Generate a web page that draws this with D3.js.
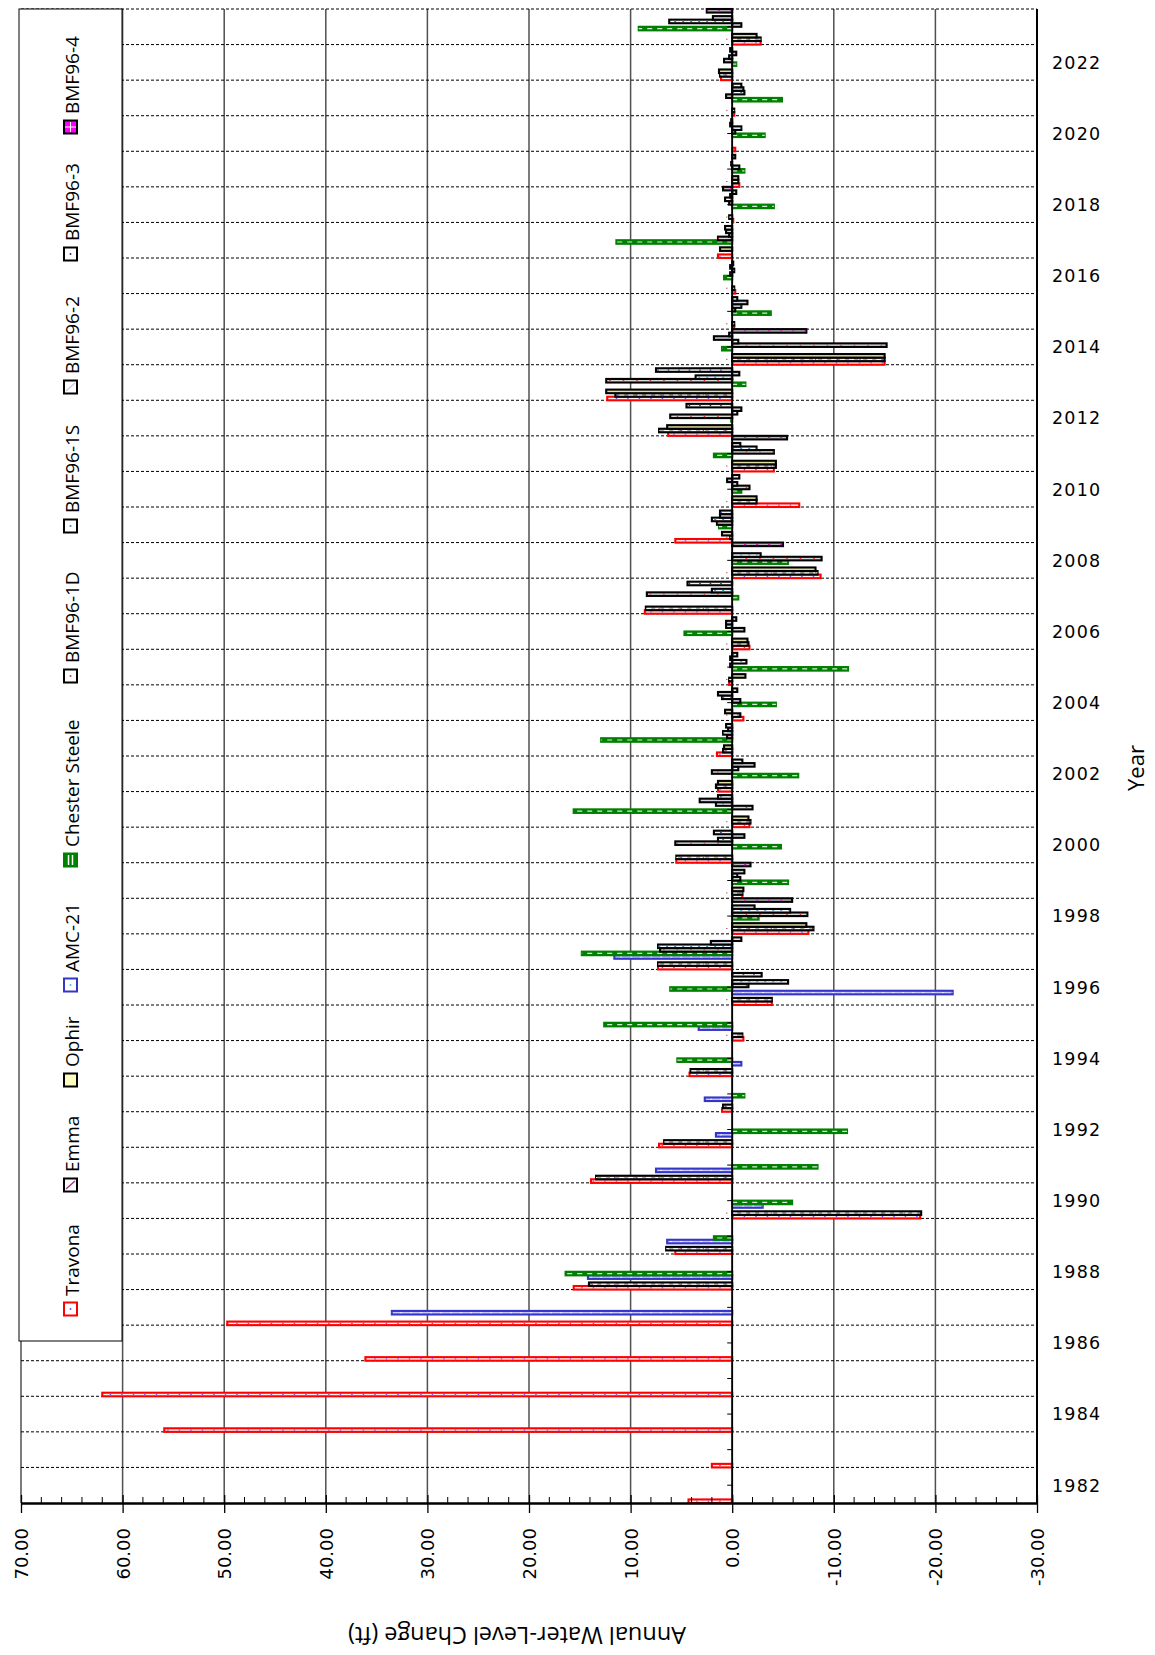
<!DOCTYPE html>
<html><head><meta charset="utf-8">
<script src="https://cdn.jsdelivr.net/npm/d3@7"></script>
<style>body{margin:0;background:#fff;} svg{display:block}</style>
</head><body>
<svg id="chart" width="1155" height="1655"></svg>
<script>
// ---------- DATA ----------
const years = [1982,1983,1984,1985,1986,1987,1988,1989,1990,1991,1992,1993,1994,1995,1996,1997,1998,1999,2000,2001,2002,2003,2004,2005,2006,2007,2008,2009,2010,2011,2012,2013,2014,2015,2016,2017,2018,2019,2020,2021,2022,2023];
const yearTickLabels = [1982,1984,1986,1988,1990,1992,1994,1996,1998,2000,2002,2004,2006,2008,2010,2012,2014,2016,2018,2020,2022];
const valueTicks = [70,60,50,40,30,20,10,0,-10,-20,-30];
const seriesNames = ["Travona","Emma","Ophir","AMC-21","Chester Steele","BMF96-1D","BMF96-1S","BMF96-2","BMF96-3","BMF96-4"];

const travona = [4.3,2.0,55.9,62.0,36.1,49.7,15.6,5.6,-18.5,13.9, 7.2,1.0,4.2,-1.1,-3.9,7.3,-7.5,-1.0,5.5,-1.7, 1.4,1.5,-1.1,0.3,-1.7,8.6,-8.7,5.6,-6.6,-4.1, 6.3,12.3,-15.0,-0.2,-0.3,1.4,-0.1,-0.7,-0.3,-0.2, 1.1,-2.8];
const emma = [null,null,null,null,null,null,14.1,6.5,-18.6,13.4, 6.7,0.9,4.1,-1.0,-3.9,7.3,-8.0,-1.0,5.5,-1.8, 1.6,0.9,-0.8,0.3,-1.6,8.5,-8.4,0.2,-2.4,-4.3, 7.2,11.5,-15.0,-0.2,-0.2,null,0.3,-0.6,null,-0.2, 1.2,-2.8];
const ophir = [null,null,null,null,null,null,null,null,null,null, null,null,null,null,null,null,-7.3,-1.1,null,-1.6, 1.4,0.8,0.7,-1.3,-1.5,null,-8.2,1.0,-2.4,-4.3, 6.4,12.4,-15.0,null,null,1.2,null,-0.6,null,null, 1.3,-2.4];
const amc21 = [null,null,null,null,null,33.5,14.2,6.4,-3.0,7.5, 1.6,2.7,-0.9,3.3,-21.7,11.6,null,null,null,null, null,null,null,null,null,null,null,null,null,null, null,null,null,null,null,null,null,null,null,null, null,null];
const chesterSteele = [null,null,null,null,null,null,16.4,1.8,-5.9,-8.4, -11.3,-1.2,5.4,12.6,6.1,14.8,-2.6,-5.5,-4.8,15.6, -6.5,12.9,-4.3,-11.4,4.7,-0.6,-5.5,1.3,-0.9,1.8, 0.1,-1.3,1.0,-3.8,0.8,11.4,-4.1,-1.2,-3.2,-4.9, -0.4,9.2];
const bmf961D = [null,null,null,null,null,null,null,null,null,null, null,null,null,null,-1.6,7.1,-7.4,-0.8,5.6,-2.0, 2.0,0.5,-0.8,0.2,-1.2,8.4,-8.8,1.5,-1.7,-4.1, 6.1,12.4,-15.2,-0.3,0.2,1.4,0.3,-0.7,-0.3,0.6, 0.8,-0.9];
const bmf961S = [null,null,null,null,null,null,null,null,null,null, null,null,null,null,-5.5,7.3,-5.7,-0.5,1.4,1.6, -0.6,0.9,1.0,-1.4,0.6,2.0,-2.8,2.0,-0.5,-2.4, -0.5,3.6,-0.6,-0.9,-0.2,0.3,0.7,0.1,-0.9,-1.2, 0.3,6.2];
const bmf962 = [null,null,null,null,null,null,null,null,null,null, null,null,null,null,null,2.1,-2.2,-1.2,-1.2,3.2, -2.2,0.4,1.4,0.2,0.6,null,null,1.2,0.5,-0.8, -0.9,-0.7,1.8,-1.5,0.2,0.6,0.2,null,0.2,-1.1, -0.4,1.9];
const bmf963 = [null,null,null,null,null,null,null,null,null,null, null,null,null,null,-2.9,-0.9,null,null,1.8,1.4, -1.0,0.6,-0.5,-0.5,-0.4,4.4,null,1.2,-0.7,null, 4.5,7.5,0.3,-0.5,-0.1,0.7,-0.4,-0.3,0.1,-0.9, 0.2,null];
const bmf964 = [null,null,null,null,null,null,null,null,null,null, null,null,null,null,null,null,-5.9,-1.8,null,null, null,null,null,null,null,null,-5.0,null,null,-5.4, null,null,-7.3,null,null,null,0.9,null,null,null, null,2.5];

const seriesValues = [travona, emma, ophir, amc21, chesterSteele, bmf961D, bmf961S, bmf962, bmf963, bmf964];

// ---------- STYLES ----------
const styles = [
  {stroke:"#ff0000", fill:"#fff2f2", mark:"#5a5aff", dash:"1.5,10", mw:1.2},
  {stroke:"#000000", fill:"#a8a8a8", mark:"#ffffff", dash:"5,4", mw:1, mark2:"#a03c5c"},
  {stroke:"#000000", fill:"#e0e0a4", mark:null},
  {stroke:"#3535c8", fill:"#c8c8ff", mark:"#ffffff", dash:"2,8", mw:0.8},
  {stroke:"#008000", fill:"#008000", mark:"#d8e8d8", dash:"5,5", mw:1.2},
  {stroke:"#000000", fill:"#d6d6d6", mark:"#e03030", dash:"1.5,12", mw:1.2},
  {stroke:"#000000", fill:"#ffffff", mark:"#2f86c0", dash:"2,6", mw:1.2},
  {stroke:"#000000", fill:"#d2d2e2", mark:null},
  {stroke:"#000000", fill:"#f4f4f4", mark:"#203080", dash:"1.5,9", mw:1.2},
  {stroke:"#000000", fill:"#b4b4b4", mark:"#e000e0", dash:"2,10", mw:1.3}
];

// ---------- LAYOUT ----------
const L = 21, R = 1037, T = 9, B = 1503;
const svg = d3.select("#chart");
const x = d3.scaleLinear().domain([70,-30]).range([L,R]);
const y = d3.scaleBand().domain(years).range([B,T]).paddingInner(0).paddingOuter(0);
const inner = d3.scaleBand().domain(seriesNames).range([y.bandwidth(),0]).padding(0);

// vertical gridlines
svg.append("g").selectAll("line").data(valueTicks).join("line")
  .attr("x1",d=>x(d)).attr("x2",d=>x(d)).attr("y1",T).attr("y2",B)
  .attr("stroke","#505050").attr("stroke-width",1.5);

// dashed horizontal gridlines at band boundaries
const bounds = years.map(yr=>y(yr));
svg.append("g").selectAll("line").data(bounds).join("line")
  .attr("x1",L).attr("x2",R).attr("y1",d=>d).attr("y2",d=>d)
  .attr("stroke","#000").attr("stroke-width",1).attr("stroke-dasharray","3,2");

// bars
const barsG = svg.append("g");
seriesNames.forEach((name,si)=>{
  const st = styles[si];
  const data = years.map((yr,i)=>({yr, v:seriesValues[si][i]})).filter(d=>d.v!==null);
  const g = barsG.append("g");
  g.selectAll("rect").data(data).join("rect")
    .attr("x",d=>Math.min(x(0),x(d.v)))
    .attr("width",d=>Math.abs(x(d.v)-x(0)))
    .attr("y",d=>y(d.yr)+inner(name))
    .attr("height",inner.bandwidth())
    .attr("fill",st.fill).attr("stroke",st.stroke).attr("stroke-width",2.1);
  if (st.mark){
    g.selectAll("line.m").data(data).join("line").attr("class","m")
      .attr("x1",d=>x(0)).attr("x2",d=>x(d.v))
      .attr("y1",d=>y(d.yr)+inner(name)+inner.bandwidth()/2)
      .attr("y2",d=>y(d.yr)+inner(name)+inner.bandwidth()/2)
      .attr("stroke",st.mark).attr("stroke-width",st.mw).attr("stroke-dasharray",st.dash);
  }
  if (st.mark2){
    g.selectAll("line.m2").data(data).join("line").attr("class","m2")
      .attr("x1",d=>x(0)-6).attr("x2",d=>x(d.v))
      .attr("y1",d=>y(d.yr)+inner(name)+inner.bandwidth()/2)
      .attr("y2",d=>y(d.yr)+inner(name)+inner.bandwidth()/2)
      .attr("stroke",st.mark2).attr("stroke-width",1).attr("stroke-dasharray","1.2,21");
  }
});

// zero (category) axis
svg.append("line").attr("x1",x(0)).attr("x2",x(0)).attr("y1",T).attr("y2",B)
  .attr("stroke","#000").attr("stroke-width",1.8);
svg.append("g").selectAll("line").data(years).join("line")
  .attr("x1",x(0)-5).attr("x2",x(0))
  .attr("y1",d=>y(d)+y.bandwidth()/2).attr("y2",d=>y(d)+y.bandwidth()/2)
  .attr("stroke","#000").attr("stroke-width",1);

// right border
svg.append("line").attr("x1",R).attr("x2",R).attr("y1",T).attr("y2",B)
  .attr("stroke","#000").attr("stroke-width",2);

// value axis (bottom)
const minorTicks = d3.range(-30,70.001,2).filter(v=>v%10!==0);
svg.append("g").selectAll("line").data(minorTicks).join("line")
  .attr("x1",d=>x(d)).attr("x2",d=>x(d)).attr("y1",B-6).attr("y2",B)
  .attr("stroke","#000").attr("stroke-width",1);
const xAxis = svg.append("g").attr("transform",`translate(0,${B})`)
  .call(d3.axisBottom(x).tickValues(valueTicks).tickFormat(d=>d.toFixed(2)).tickSizeInner(10).tickSizeOuter(0));
xAxis.select(".domain").attr("stroke","#000").attr("stroke-width",2.4);
xAxis.selectAll(".tick line").attr("y1",-8).attr("stroke","#000").attr("stroke-width",1.3);
xAxis.selectAll(".tick text")
  .attr("transform","rotate(-90)").attr("x",-25).attr("y",0).attr("dy","0.36em")
  .attr("text-anchor","end").attr("font-family","DejaVu Sans").attr("font-size",18).attr("fill","#000");

// year axis (right)
const yAxis = svg.append("g").attr("transform",`translate(${R},0)`)
  .call(d3.axisRight(y).tickValues(yearTickLabels).tickSize(0));
yAxis.select(".domain").remove();
yAxis.selectAll(".tick text").attr("x",15).attr("dy","0.36em")
  .attr("font-family","DejaVu Sans").attr("font-size",17.5).attr("letter-spacing",1.2).attr("fill","#000");

// axis titles
svg.append("text").attr("transform","translate(517,1636) rotate(180)")
  .attr("text-anchor","middle").attr("dominant-baseline","central")
  .attr("font-family","Open Sans").attr("font-size",23.5).attr("fill","#000")
  .text("Annual Water-Level Change (ft)");
svg.append("text").attr("transform","translate(1135,768) rotate(-90)")
  .attr("text-anchor","middle").attr("dominant-baseline","central")
  .attr("font-family","Open Sans").attr("font-size",22).attr("fill","#000")
  .text("Year");

// legend
const lg = svg.append("g");
lg.append("rect").attr("x",19).attr("y",T).attr("width",103).attr("height",1332)
  .attr("fill","#fff").attr("stroke","#000").attr("stroke-width",1);
const legendY = [1309,1185,1080,985,860,676,526,387,254,127];
seriesNames.forEach((name,si)=>{
  const st = styles[si];
  const cy = legendY[si];
  lg.append("rect").attr("x",64).attr("y",cy-6.5).attr("width",13).attr("height",13)
    .attr("fill", si===9 ? "#ff00ff" : (si===2 ? "#ffffc0" : (si===4 ? "#008000" : "#fff")))
    .attr("stroke",st.stroke).attr("stroke-width",2);
  if (si===4){
    lg.append("line").attr("x1",68.5).attr("x2",68.5).attr("y1",cy-5).attr("y2",cy+5).attr("stroke","#fff").attr("stroke-width",1.5);
    lg.append("line").attr("x1",72.5).attr("x2",72.5).attr("y1",cy-5).attr("y2",cy+5).attr("stroke","#fff").attr("stroke-width",1.5);
  }
  if (si===9){
    lg.append("line").attr("x1",70.5).attr("x2",70.5).attr("y1",cy-5).attr("y2",cy+5).attr("stroke","#fff").attr("stroke-width",1);
    lg.append("line").attr("x1",65).attr("x2",76).attr("y1",cy).attr("y2",cy).attr("stroke","#fff").attr("stroke-width",1);
  }
  if (si===0 || si===3 || si===5 || si===6 || si===8){
    lg.append("circle").attr("cx",70.5).attr("cy",cy).attr("r",1).attr("fill",st.mark === "#ffffff" ? "#40c0e0" : st.mark);
  }
  if (si===1){
    lg.append("line").attr("x1",66).attr("x2",75).attr("y1",cy+4).attr("y2",cy-4).attr("stroke","#a03c8c").attr("stroke-width",1.5);
  }
  if (si===7){
    lg.append("line").attr("x1",66).attr("x2",75).attr("y1",cy+4).attr("y2",cy-4).attr("stroke","#c8c8e8").attr("stroke-width",1.5);
  }
  lg.append("text").attr("transform",`translate(79,${cy-13}) rotate(-90)`)
    .attr("font-family","Open Sans").attr("font-size",19).attr("fill","#000")
    .text(name);
});
</script>
</body></html>
